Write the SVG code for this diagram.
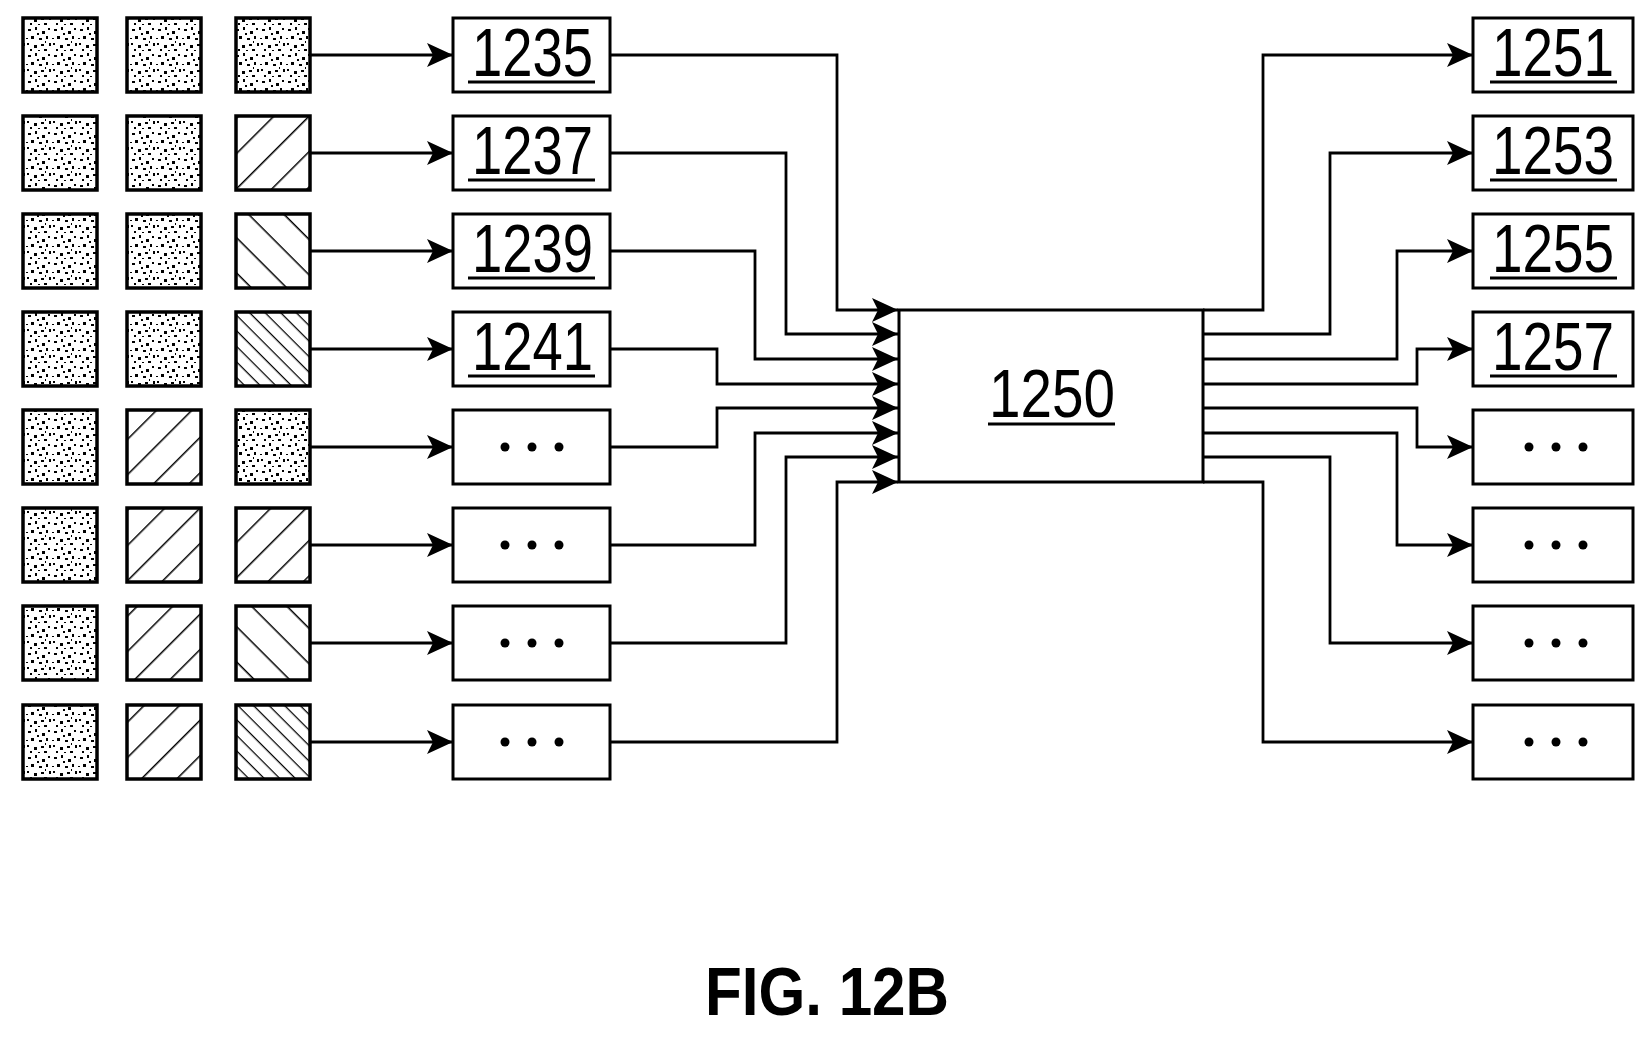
<svg xmlns="http://www.w3.org/2000/svg" width="1644" height="1037" viewBox="0 0 1644 1037">
<style>
.b{fill:#fff;stroke:#000;stroke-width:3}
.sq{stroke:#000;stroke-width:3.5}
.c{fill:none;stroke:#000;stroke-width:2.8}
.t{font-family:"Liberation Sans",Arial,sans-serif;font-size:68px;fill:#000}
.u{stroke:#000;stroke-width:3}
</style>
<defs>
<marker id="ah" markerWidth="26" markerHeight="24" refX="26" refY="12" orient="auto" markerUnits="userSpaceOnUse"><path d="M0,0 L26,12 L0,24 L6,12 Z" fill="#000"/></marker>
<pattern id="st" width="26" height="26" patternUnits="userSpaceOnUse">
<rect width="26" height="26" fill="#fff"/>
<g fill="#000"><rect x="2" y="3" width="3" height="2"/><rect x="9" y="1" width="2" height="3"/><rect x="16" y="5" width="3" height="3"/><rect x="22" y="2" width="2" height="2"/><rect x="5" y="10" width="3" height="3"/><rect x="13" y="12" width="3" height="2"/><rect x="20" y="10" width="2" height="3"/><rect x="1" y="17" width="2" height="2"/><rect x="8" y="19" width="3" height="3"/><rect x="15" y="18" width="3" height="2"/><rect x="23" y="17" width="2" height="3"/><rect x="4" y="23" width="2" height="2"/><rect x="18" y="23" width="3" height="2"/><rect x="11" y="7" width="2" height="2"/><rect x="0" y="12" width="2" height="1"/><rect x="12" y="24" width="2" height="1"/><rect x="19" y="15" width="1" height="2"/></g>
</pattern>
<pattern id="fw" width="25" height="25" patternUnits="userSpaceOnUse" patternTransform="rotate(-45)"><rect width="25" height="25" fill="#fff"/><line x1="0" y1="0" x2="25" y2="0" stroke="#000" stroke-width="3"/></pattern>
<pattern id="bw" width="25" height="25" patternUnits="userSpaceOnUse" patternTransform="rotate(45)"><rect width="25" height="25" fill="#fff"/><line x1="0" y1="0" x2="25" y2="0" stroke="#000" stroke-width="3"/></pattern>
<pattern id="bd" width="11" height="11" patternUnits="userSpaceOnUse" patternTransform="rotate(45)"><rect width="11" height="11" fill="#fff"/><line x1="0" y1="0" x2="11" y2="0" stroke="#000" stroke-width="2.5"/></pattern>
</defs>
<rect width="1644" height="1037" fill="#fff"/>
<g id="squares">
<rect class="sq" x="23" y="18" width="74" height="74" fill="url(#st)"/><rect class="sq" x="127" y="18" width="74" height="74" fill="url(#st)"/><rect class="sq" x="236" y="18" width="74" height="74" fill="url(#st)"/>
<rect class="sq" x="23" y="116" width="74" height="74" fill="url(#st)"/><rect class="sq" x="127" y="116" width="74" height="74" fill="url(#st)"/><rect class="sq" x="236" y="116" width="74" height="74" fill="url(#fw)"/>
<rect class="sq" x="23" y="214" width="74" height="74" fill="url(#st)"/><rect class="sq" x="127" y="214" width="74" height="74" fill="url(#st)"/><rect class="sq" x="236" y="214" width="74" height="74" fill="url(#bw)"/>
<rect class="sq" x="23" y="312" width="74" height="74" fill="url(#st)"/><rect class="sq" x="127" y="312" width="74" height="74" fill="url(#st)"/><rect class="sq" x="236" y="312" width="74" height="74" fill="url(#bd)"/>
<rect class="sq" x="23" y="410" width="74" height="74" fill="url(#st)"/><rect class="sq" x="127" y="410" width="74" height="74" fill="url(#fw)"/><rect class="sq" x="236" y="410" width="74" height="74" fill="url(#st)"/>
<rect class="sq" x="23" y="508" width="74" height="74" fill="url(#st)"/><rect class="sq" x="127" y="508" width="74" height="74" fill="url(#fw)"/><rect class="sq" x="236" y="508" width="74" height="74" fill="url(#fw)"/>
<rect class="sq" x="23" y="606" width="74" height="74" fill="url(#st)"/><rect class="sq" x="127" y="606" width="74" height="74" fill="url(#fw)"/><rect class="sq" x="236" y="606" width="74" height="74" fill="url(#bw)"/>
<rect class="sq" x="23" y="705" width="74" height="74" fill="url(#st)"/><rect class="sq" x="127" y="705" width="74" height="74" fill="url(#fw)"/><rect class="sq" x="236" y="705" width="74" height="74" fill="url(#bd)"/>
</g>
<g id="connectors" class="c" marker-end="url(#ah)">
<path d="M310,55H453"/><path d="M310,153H453"/><path d="M310,251H453"/><path d="M310,349H453"/><path d="M310,447H453"/><path d="M310,545H453"/><path d="M310,643H453"/><path d="M310,742H453"/>
<path d="M610,55H837V310H898"/><path d="M610,153H786V334H898"/><path d="M610,251H755V359H898"/><path d="M610,349H717V384H898"/><path d="M610,447H717V408H898"/><path d="M610,545H755V433H898"/><path d="M610,643H786V457H898"/><path d="M610,742H837V482H898"/>
<path d="M1203,310H1263V55H1473"/><path d="M1203,334H1330V153H1473"/><path d="M1203,359H1397V251H1473"/><path d="M1203,384H1417V349H1473"/><path d="M1203,408H1417V447H1473"/><path d="M1203,433H1397V545H1473"/><path d="M1203,457H1330V643H1473"/><path d="M1203,482H1263V742H1473"/>
</g>
<g id="n1250"><rect class="b" x="899" y="310" width="304" height="172"/><text class="t" x="989" y="417" textLength="126" lengthAdjust="spacingAndGlyphs">1250</text><line class="u" x1="988" y1="424" x2="1115" y2="424"/></g>
<g id="n1235"><rect class="b" x="453" y="18" width="157" height="74"/><text class="t" x="472" y="76" textLength="121" lengthAdjust="spacingAndGlyphs">1235</text><line class="u" x1="468" y1="82" x2="595" y2="82"/></g>
<g id="n1237"><rect class="b" x="453" y="116" width="157" height="74"/><text class="t" x="472" y="174" textLength="121" lengthAdjust="spacingAndGlyphs">1237</text><line class="u" x1="468" y1="180" x2="595" y2="180"/></g>
<g id="n1239"><rect class="b" x="453" y="214" width="157" height="74"/><text class="t" x="472" y="272" textLength="121" lengthAdjust="spacingAndGlyphs">1239</text><line class="u" x1="468" y1="278" x2="595" y2="278"/></g>
<g id="n1241"><rect class="b" x="453" y="312" width="157" height="74"/><text class="t" x="472" y="370" textLength="121" lengthAdjust="spacingAndGlyphs">1241</text><line class="u" x1="468" y1="376" x2="595" y2="376"/></g>
<g id="l5"><rect class="b" x="453" y="410" width="157" height="74"/><circle cx="505" cy="447" r="4.5"/><circle cx="532" cy="447" r="4.5"/><circle cx="559" cy="447" r="4.5"/></g>
<g id="l6"><rect class="b" x="453" y="508" width="157" height="74"/><circle cx="505" cy="545" r="4.5"/><circle cx="532" cy="545" r="4.5"/><circle cx="559" cy="545" r="4.5"/></g>
<g id="l7"><rect class="b" x="453" y="606" width="157" height="74"/><circle cx="505" cy="643" r="4.5"/><circle cx="532" cy="643" r="4.5"/><circle cx="559" cy="643" r="4.5"/></g>
<g id="l8"><rect class="b" x="453" y="705" width="157" height="74"/><circle cx="505" cy="742" r="4.5"/><circle cx="532" cy="742" r="4.5"/><circle cx="559" cy="742" r="4.5"/></g>
<g id="n1251"><rect class="b" x="1473" y="18" width="160" height="74"/><text class="t" x="1492" y="76" textLength="122" lengthAdjust="spacingAndGlyphs">1251</text><line class="u" x1="1490" y1="82" x2="1617" y2="82"/></g>
<g id="n1253"><rect class="b" x="1473" y="116" width="160" height="74"/><text class="t" x="1492" y="174" textLength="122" lengthAdjust="spacingAndGlyphs">1253</text><line class="u" x1="1490" y1="180" x2="1617" y2="180"/></g>
<g id="n1255"><rect class="b" x="1473" y="214" width="160" height="74"/><text class="t" x="1492" y="272" textLength="122" lengthAdjust="spacingAndGlyphs">1255</text><line class="u" x1="1490" y1="278" x2="1617" y2="278"/></g>
<g id="n1257"><rect class="b" x="1473" y="312" width="160" height="74"/><text class="t" x="1492" y="370" textLength="122" lengthAdjust="spacingAndGlyphs">1257</text><line class="u" x1="1490" y1="376" x2="1617" y2="376"/></g>
<g id="r5"><rect class="b" x="1473" y="410" width="160" height="74"/><circle cx="1529" cy="447" r="4.5"/><circle cx="1556" cy="447" r="4.5"/><circle cx="1583" cy="447" r="4.5"/></g>
<g id="r6"><rect class="b" x="1473" y="508" width="160" height="74"/><circle cx="1529" cy="545" r="4.5"/><circle cx="1556" cy="545" r="4.5"/><circle cx="1583" cy="545" r="4.5"/></g>
<g id="r7"><rect class="b" x="1473" y="606" width="160" height="74"/><circle cx="1529" cy="643" r="4.5"/><circle cx="1556" cy="643" r="4.5"/><circle cx="1583" cy="643" r="4.5"/></g>
<g id="r8"><rect class="b" x="1473" y="705" width="160" height="74"/><circle cx="1529" cy="742" r="4.5"/><circle cx="1556" cy="742" r="4.5"/><circle cx="1583" cy="742" r="4.5"/></g>
<text x="705" y="1015" font-family="Liberation Sans,Arial,sans-serif" font-weight="bold" font-size="68" textLength="244" lengthAdjust="spacingAndGlyphs">FIG. 12B</text>
</svg>
